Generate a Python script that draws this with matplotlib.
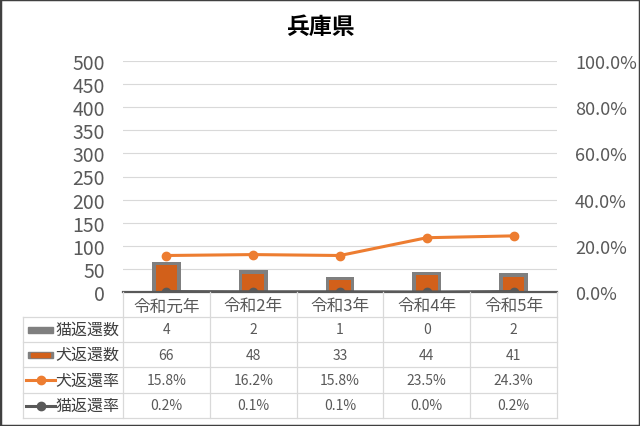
import matplotlib
matplotlib.use("Agg")
import matplotlib.pyplot as plt
from matplotlib.patches import Rectangle
from matplotlib.lines import Line2D
from matplotlib.transforms import blended_transform_factory
from matplotlib.ticker import FuncFormatter, MultipleLocator

plt.rcParams['font.family'] = ['Noto Sans CJK JP', 'DejaVu Sans']

title = "兵庫県"
years = ["令和元年", "令和2年", "令和3年", "令和4年", "令和5年"]
cat_count = [4, 2, 1, 0, 2]
dog_count = [66, 48, 33, 44, 41]
dog_rate = [15.8, 16.2, 15.8, 23.5, 24.3]
cat_rate = [0.2, 0.1, 0.1, 0.0, 0.2]

GRAY_BAR = "#7f7f7f"
ORANGE_BAR = "#d2601a"
ORANGE = "#ed7d31"
DARK = "#595959"
TXT = "#595959"
GRID = "#d9d9d9"

W, H = 640, 427


def fx(px):
    return px / W


def fy(py):
    return 1 - py / H


fig = plt.figure(figsize=(6.4, 4.27), dpi=100)
fig.patch.set_facecolor("white")

ax = fig.add_axes([fx(123), fy(293), fx(557) - fx(123), fy(62) - fy(293)])
x = list(range(len(years)))

# bars: dog count with gray rim, cat count hidden near the axis
ax.bar(x, dog_count, width=0.33, color=GRAY_BAR, zorder=2)
inset = 8
ax.bar(x, [v - inset for v in dog_count], width=0.25, color=ORANGE_BAR, zorder=3)
ax.bar(x, cat_count, width=0.33, color=GRAY_BAR, zorder=2)

ax.set_xlim(-0.5, 4.5)
ax.set_ylim(0, 500)
ax.yaxis.set_major_locator(MultipleLocator(50))
ax.grid(axis="y", color=GRID, linewidth=0.8, zorder=0)
ax.set_axisbelow(True)
for s in ["top", "right", "left"]:
    ax.spines[s].set_visible(False)
ax.spines["bottom"].set_color(DARK)
ax.spines["bottom"].set_linewidth(1.6)
ax.spines["bottom"].set_zorder(4)
ax.set_xticks([])
ax.tick_params(axis="y", length=0, labelsize=14, labelcolor=TXT, pad=13)

ax2 = ax.twinx()
ax2.set_ylim(0, 100)
ax2.yaxis.set_major_locator(MultipleLocator(20))
ax2.yaxis.set_major_formatter(FuncFormatter(lambda v, p: f"{v:.1f}%"))
ax2.tick_params(axis="y", length=0, labelsize=13, labelcolor=TXT, pad=13)
for s in ["top", "right", "left", "bottom"]:
    ax2.spines[s].set_visible(False)
ax2.plot(x, dog_rate, color=ORANGE, linewidth=2.2, marker="o", markersize=6, zorder=5)
ax2.plot(x, cat_rate, color=DARK, linewidth=2.2, marker="o", markersize=6, zorder=5)

fig.text(0.5, fy(27), title, ha="center", va="center", fontsize=16.5, fontweight="bold", color="black")

# data table under the plot
trans = blended_transform_factory(ax.transData, fig.transFigure)
row_edges = [293, 318, 343, 368, 394, 419]
for px in row_edges[1:]:
    fig.add_artist(Line2D([fx(23), fx(557)], [fy(px), fy(px)], color=GRID, linewidth=0.9))
fig.add_artist(Line2D([fx(23), fx(23)], [fy(318), fy(419)], color=GRID, linewidth=0.9))
for b in [i - 0.5 for i in range(len(years) + 1)]:
    fig.add_artist(Line2D([b, b], [fy(293), fy(419)], color=GRID, linewidth=0.9, transform=trans))

centers = [(row_edges[i] + row_edges[i + 1]) / 2 for i in range(5)]
for i, yr in enumerate(years):
    fig.text(i, fy(centers[0]) - 0.003, yr, transform=trans, ha="center", va="center", fontsize=12, color=TXT)

rows = [
    ("猫返還数", [str(v) for v in cat_count]),
    ("犬返還数", [str(v) for v in dog_count]),
    ("犬返還率", [f"{v:.1f}%" for v in dog_rate]),
    ("猫返還率", [f"{v:.1f}%" for v in cat_rate]),
]
for r, (label, vals) in enumerate(rows):
    cy = fy(centers[r + 1])
    for i, v in enumerate(vals):
        fig.text(i, cy, v, transform=trans, ha="center", va="center", fontsize=10, color=TXT)
    fig.text(fx(55), cy, label, ha="left", va="center", fontsize=11.5, color="#404040")

# legend keys
fig.add_artist(Rectangle((fx(28), fy(333.5)), fx(53) - fx(28), fy(327.5) - fy(333.5), color=GRAY_BAR))
fig.add_artist(Rectangle((fx(28), fy(358.5)), fx(53) - fx(28), fy(352.5) - fy(358.5), color=GRAY_BAR))
fig.add_artist(Rectangle((fx(31), fy(357.5)), fx(50) - fx(31), fy(353.5) - fy(357.5), color=ORANGE_BAR))
for r, col in [(3, ORANGE), (4, DARK)]:
    cy = fy(centers[r])
    fig.add_artist(Line2D([fx(26), fx(55)], [cy, cy], color=col, linewidth=2.2))
    fig.add_artist(Line2D([fx(40.5)], [cy], color=col, marker="o", markersize=6))

fig.add_artist(Rectangle((0, 0), 1, 1, transform=fig.transFigure, fill=False, edgecolor="#404040", linewidth=2.5))

fig.savefig("out.png", dpi=100)
